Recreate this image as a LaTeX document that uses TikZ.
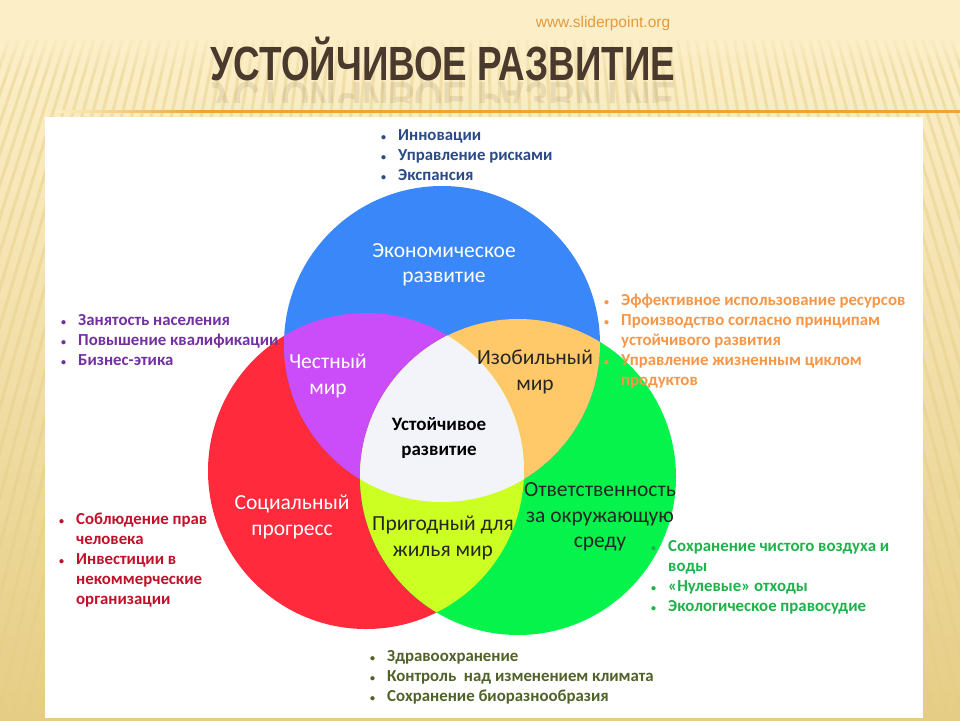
\documentclass[tikz,border=0pt]{standalone}
\usepackage{fontspec}
\setmainfont{Carlito}
\newfontfamily\zagfont{Liberation Sans}
\usetikzlibrary{fadings}

% Цвета
\definecolor{fon}{HTML}{FCEFC8}
\definecolor{fontemn}{HTML}{E6CD85}
\definecolor{liniya}{HTML}{EFA536}
\definecolor{zagolovok}{HTML}{4A3A2E}
\definecolor{sajt}{HTML}{E39A3B}
\definecolor{ekon}{HTML}{3A87FA}
\definecolor{soc}{HTML}{FF2B3D}
\definecolor{eko}{HTML}{05F34A}
\definecolor{chestn}{HTML}{CB4CF9}
\definecolor{izob}{HTML}{FFC96A}
\definecolor{prigod}{HTML}{CCFF22}
\definecolor{centr}{HTML}{F3F3FA}
\definecolor{sinij}{HTML}{2C4A86}
\definecolor{fiolet}{HTML}{7330A0}
\definecolor{oranzh}{HTML}{F79646}
\definecolor{krasn}{HTML}{C3102A}
\definecolor{zelen}{HTML}{1DB34A}
\definecolor{oliv}{HTML}{4F6228}

\tikzfading[name=vniz, top color=transparent!0, bottom color=transparent!100]

\tikzset{
  krug/.style={radius=158pt},
  belyj/.style={align=center, text=white, font=\fontsize{21.5}{25.5}\selectfont},
  temnyj/.style={align=center, text=black!85, font=\fontsize{21.5}{25.5}\selectfont},
  centrtext/.style={align=center, text=black, font=\fontsize{19}{25.5}\selectfont\bfseries},
  spisok/.style={anchor=base west, inner sep=0pt, font=\fontsize{16.8}{20}\selectfont\bfseries},
}

\newcommand{\tochka}{{\fontsize{10}{10}\selectfont\textbullet}}
\newcommand{\punkty}[1]{\begin{tabular}[t]{@{}p{17pt}@{}l@{}}#1\end{tabular}}

\begin{document}
\begin{tikzpicture}[x=1pt,y=-1pt]
\useasboundingbox (0,0) rectangle (960,720);

% Фон слайда
\fill[fon] (0,0) rectangle (960,720);
\shade[top color=fon, bottom color=fontemn] (0,40) rectangle (960,720);
\begin{scope}
  \clip (0,40) rectangle (960,720);
  \foreach \k in {-50,...,50}
    \draw[fontemn, opacity=0.45, line width=3pt] (480,-1300) -- (480+\k*14.2,720);
\end{scope}
\fill[fon, path fading=vniz] (0,30) rectangle (960,75);

% Сайт и заголовок
\node[text=sajt, font=\zagfont\fontsize{15.5}{18}\selectfont] (sajt) at (603,23) {www.sliderpoint.org};
\node[text=zagolovok, font=\zagfont\bfseries\fontsize{48}{50}\selectfont, anchor=base, inner sep=0pt] (zag) at (443,80)
  {\scalebox{0.767}[1]{УСТОЙЧИВОЕ РАЗВИТИЕ}};
\begin{scope}
  \clip (0,81) rectangle (960,102);
  \node[text=zagolovok, opacity=0.1, font=\zagfont\bfseries\fontsize{48}{50}\selectfont, anchor=base, inner sep=0pt] (zag-otr) at (443,82)
    {\scalebox{0.767}[-1]{УСТОЙЧИВОЕ РАЗВИТИЕ}};
\end{scope}

% Линия и белое поле
\shade[left color=fon, right color=liniya] (55,110) rectangle (200,112.5);
\fill[liniya] (200,110) rectangle (960,112.5);
\fill[white] (45,117) rectangle (923,718);

% Список у красного круга (под кругом)
\node[spisok, text=krasn] (spisok-soc) at (59,524)
  {\punkty{\tochka & Соблюдение прав\\ & человека\\ \tochka & Инвестиции в\\ & некоммерческие\\ & организации}};

% Круги
\coordinate (ce) at (442,344);
\coordinate (cs) at (366,471);
\coordinate (cz) at (518,477);
\fill[soc] (cs) circle[krug];
\fill[eko] (cz) circle[krug];
\fill[ekon] (ce) circle[krug];
\begin{scope}
  \clip (ce) circle[krug];
  \fill[chestn] (cs) circle[krug];
  \fill[izob] (cz) circle[krug];
\end{scope}
\begin{scope}
  \clip (cs) circle[krug];
  \fill[prigod] (cz) circle[krug];
  \clip (ce) circle[krug];
  \fill[centr] (cz) circle[krug];
\end{scope}

% Подписи в кругах
\node[belyj] (ekon-t) at (444,265) {Экономическое\\развитие};
\node[belyj] (chest-t) at (328,376) {Честный\\мир};
\node[temnyj] (izob-t) at (535,372) {Изобильный\\мир};
\node[centrtext] (ust-t) at (439,438) {Устойчивое\\развитие};
\node[belyj] (soc-t) at (292,517) {Социальный\\прогресс};
\node[temnyj] (prig-t) at (443,538) {Пригодный для\\жилья мир};
\node[temnyj] (otv-t) at (600,517) {Ответственность\\за окружающую\\среду};

% Списки
\node[spisok, text=sinij] (spisok-ekon) at (381,140)
  {\punkty{\tochka & Инновации\\ \tochka & Управление рисками\\ \tochka & Экспансия}};
\node[spisok, text=fiolet] (spisok-chest) at (61,325)
  {\punkty{\tochka & Занятость населения\\ \tochka & Повышение квалификации\\ \tochka & Бизнес-этика}};
\node[spisok, text=oranzh] (spisok-izob) at (604,305)
  {\punkty{\tochka & Эффективное использование ресурсов\\ \tochka & Производство согласно принципам\\ & устойчивого развития\\ \tochka & Управление жизненным циклом\\ & продуктов}};
\node[spisok, text=zelen] (spisok-eko) at (651,551)
  {\punkty{\tochka & Сохранение чистого воздуха и\\ & воды\\ \tochka & «Нулевые» отходы\\ \tochka & Экологическое правосудие}};
\node[spisok, text=oliv] (spisok-prig) at (370,661)
  {\punkty{\tochka & Здравоохранение\\ \tochka & Контроль~ над изменением климата\\ \tochka & Сохранение биоразнообразия}};

\end{tikzpicture}
\end{document}
